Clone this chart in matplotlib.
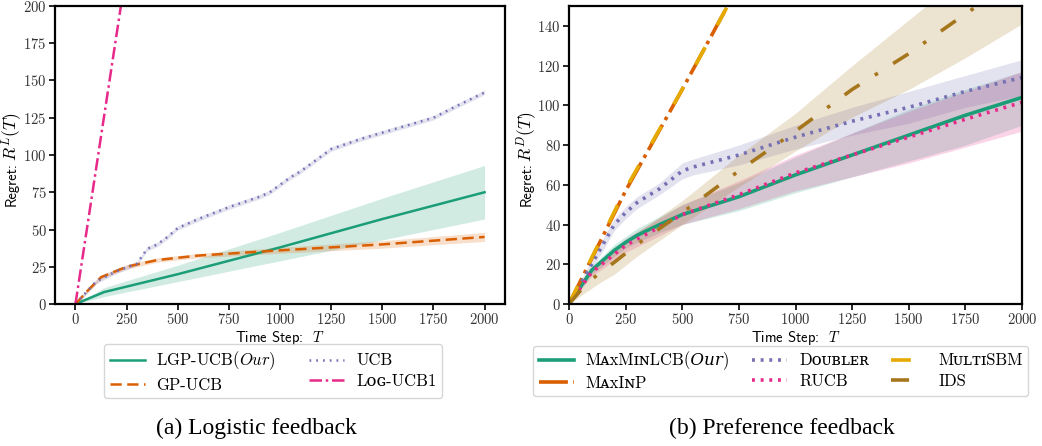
import numpy as np
import matplotlib
matplotlib.use("Agg")
import matplotlib.pyplot as plt

plt.rcParams['mathtext.fontset'] = 'cm'
plt.rcParams['axes.formatter.use_mathtext'] = True

# ---- data: (a) logistic feedback ----
lgp_t = [0, 140, 500, 1000, 1500, 2000]
lgp_y = [0, 8, 20, 38, 57, 75]
lgp_lo = [0, 5, 15, 29, 43, 57]
lgp_hi = [0, 11, 26, 48, 71, 93]

gp_t = [0, 60, 125, 250, 400, 600, 1000, 1500, 2000]
gp_y = [0, 9, 18, 25, 29.5, 32.5, 36, 40, 45]
gp_lo = [0, 8, 16.5, 23.5, 28, 31, 34, 37.5, 42]
gp_hi = [0, 10, 19.5, 26.5, 31, 34, 38, 42.5, 48]

ucb_t = [0, 100, 200, 300, 350, 400, 450, 500, 600, 750, 900, 950, 1000, 1050, 1100,
         1250, 1400, 1500, 1600, 1750, 1850, 2000]
ucb_y = [0, 15, 22, 27, 37, 40, 45, 51, 57, 65, 72, 75, 80, 85, 89,
         104, 111, 115, 119, 125, 132, 142]

log_t = [0, 500, 2000]
log_y = [0, 450, 1800]

# ---- data: (b) preference feedback ----
mml_t = [0, 100, 200, 250, 300, 400, 500, 750, 1000, 1250, 1500, 1750, 2000]
mml_y = [0, 17, 27, 31, 34.5, 40, 45, 54, 65, 75, 85, 95, 104]
mml_lo = [0, 15, 24, 28, 31, 36, 40, 47, 56, 64, 72, 80, 90]
mml_hi = [0, 19, 30, 34, 38, 44, 50, 61, 74, 86, 98, 108, 117]

maxinp_t = [0, 250, 500, 700, 2000]
maxinp_y = [0, 57, 108, 150, 430]

doub_t = [0, 75, 150, 200, 250, 300, 400, 500, 550, 750, 1000, 1250, 1500, 1750, 2000]
doub_y = [0, 15, 30, 40, 46, 51, 58, 67, 69, 75, 84, 92, 99, 107, 114]
doub_lo = [0, 13, 27, 37, 43, 48, 55, 63, 65, 70, 78, 85, 91, 99, 105]
doub_hi = [0, 17, 33, 43, 49, 54, 61, 71, 73, 80, 90, 99, 107, 115, 123]

rucb_t = [0, 100, 250, 500, 750, 1000, 1250, 1500, 1750, 2000]
rucb_y = [0, 16, 29.5, 45, 55, 66, 75, 84, 93, 101.5]
rucb_lo = [0, 14, 26, 40, 48, 57, 64, 71, 79, 87]
rucb_hi = [0, 18, 33, 50, 62, 75, 86, 97, 107, 117]

msbm_t = [0, 250, 500, 700, 2000]
msbm_y = [0, 58, 108, 150, 430]

ids_t = [0, 75, 140, 200, 300, 400, 500, 750, 1000, 1250, 1500, 1750, 2000]
ids_y = [0, 10, 16, 21, 30, 38, 46, 67, 87, 108, 126, 146, 165]
ids_lo = [0, 6, 11, 15, 24, 32, 40, 59, 77, 94, 108, 124, 141]
ids_hi = [0, 14, 21, 27, 36, 44, 52, 75, 96, 120, 143, 166, 190]

green = '#1b9e77'
orange = '#d95f02'
purple = '#7570b3'
pink = '#e7298a'
gold = '#e6ab02'
brown = '#a6761d'

W, H = 1042, 446
fig = plt.figure(figsize=(W / 100, H / 100), dpi=100)
ax1 = fig.add_axes([55 / W, 1 - 304 / H, 450 / W, 298 / H])
ax2 = fig.add_axes([569 / W, 1 - 304 / H, 453 / W, 298 / H])

# small caps helper using unicode small capital letters
sc = {'A': 'ᴀ', 'B': 'ʙ', 'C': 'ᴄ', 'D': 'ᴅ', 'E': 'ᴇ', 'G': 'ɢ', 'I': 'ɪ', 'L': 'ʟ',
      'N': 'ɴ', 'O': 'ᴏ', 'P': 'ᴘ', 'R': 'ʀ', 'T': 'ᴛ', 'U': 'ᴜ', 'X': 'x', 'M': 'ᴍ'}
def smallcaps(word):
    return ''.join(sc.get(c.upper(), c) if c.islower() else c for c in word)

# italic "Our" as unicode math italic letters (no mathtext in this label)
our_it = '\U0001D442\U0001D462\U0001D45F'

# ---- left plot ----
ax1.plot(lgp_t, lgp_y, color=green, lw=1.8, label='LGP-UCB($Our$)')
ax1.fill_between(lgp_t, lgp_lo, lgp_hi, color=green, alpha=0.2, lw=0)
ax1.plot(gp_t, gp_y, color=orange, lw=1.8, ls=(0, (4.5, 2.2)), label='GP-UCB')
ax1.fill_between(gp_t, gp_lo, gp_hi, color=orange, alpha=0.2, lw=0)
ax1.plot(ucb_t, ucb_y, color=purple, lw=1.8, ls=(0, (0.7, 2.0)), label='UCB')
ax1.fill_between(ucb_t, np.array(ucb_y) - 1.5, np.array(ucb_y) + 1.5, color=purple, alpha=0.2, lw=0)
ax1.plot(log_t, log_y, color=pink, lw=1.8, ls=(0, (5, 1.5, 1, 1.5)), label=smallcaps('Log') + '-UCB1')
ax1.set_xlim(-100, 2100)
ax1.set_ylim(0, 200)
ax1.set_xticks([0, 250, 500, 750, 1000, 1250, 1500, 1750, 2000])
ax1.set_yticks([0, 25, 50, 75, 100, 125, 150, 175, 200])
ax1.set_xlabel('Time Step:  $T$', fontfamily='cmss10', fontsize=10.5, labelpad=1)

# ---- right plot ----
ax2.plot(mml_t, mml_y, color=green, lw=2.6, label=smallcaps('MaxMin') + 'LCB(' + our_it + ')')
ax2.fill_between(mml_t, mml_lo, mml_hi, color=green, alpha=0.2, lw=0)
ax2.plot(maxinp_t, maxinp_y, color=orange, lw=2.6, ls=(0, (8, 1.5, 1, 1.5)), label=smallcaps('MaxIn') + 'P')
ax2.plot(doub_t, doub_y, color=purple, lw=2.6, ls=(0, (0.8, 1.6)), label=smallcaps('Doubler'))
ax2.fill_between(doub_t, doub_lo, doub_hi, color=purple, alpha=0.2, lw=0)
ax2.plot(rucb_t, rucb_y, color=pink, lw=2.6, ls=(0, (0.8, 1.6)), label='RUCB')
ax2.fill_between(rucb_t, rucb_lo, rucb_hi, color=pink, alpha=0.2, lw=0)
ax2.plot(msbm_t, msbm_y, color=gold, lw=2.6, ls=(0, (5.5, 7)), label=smallcaps('Multi') + 'SBM')
ax2.plot(ids_t, ids_y, color=brown, lw=2.6, ls=(0, (5, 5, 1, 5)), label='IDS')
ax2.fill_between(ids_t, ids_lo, ids_hi, color=brown, alpha=0.2, lw=0)
ax2.set_xlim(0, 2000)
ax2.set_ylim(0, 150)
ax2.set_xticks([0, 250, 500, 750, 1000, 1250, 1500, 1750, 2000])
ax2.set_yticks([0, 20, 40, 60, 80, 100, 120, 140])
ax2.set_xlabel('Time Step:  $T$', fontfamily='cmss10', fontsize=10.5, labelpad=1)

for ax in (ax1, ax2):
    for s in ax.spines.values():
        s.set_linewidth(1.6)
        s.set_color('black')
    ax.tick_params(direction='out', length=4, width=1.2, labelsize=10.5, pad=2, colors='black')
    for lab in ax.get_xticklabels() + ax.get_yticklabels():
        lab.set_fontfamily('cmr10')
        lab.set_color('#333333')

# y labels: sans text plus larger math part
for x0, sym in ((12, '$R^L(T)$'), (527, '$R^D(T)$')):
    fig.text(x0 / W, 1 - 184 / H, 'Regret:', rotation=90, ha='center', va='center',
             fontfamily='cmss10', fontsize=10.5)
    fig.text(x0 / W, 1 - 137 / H, sym, rotation=90, ha='center', va='center', fontsize=12.5)

legfont = {'family': ['cmr10', 'DejaVu Serif', 'STIXGeneral'], 'size': 12}
h, l = ax1.get_legend_handles_labels()
fig.legend(h, l, ncol=2, loc='center', bbox_to_anchor=(273 / W, 1 - 371 / H), prop=legfont,
           frameon=True, fancybox=True, edgecolor='#cccccc', handlelength=2.1,
           columnspacing=2.0, borderpad=0.35, labelspacing=0.3, handletextpad=0.7)
h, l = ax2.get_legend_handles_labels()
fig.legend(h, l, ncol=3, loc='center left', bbox_to_anchor=(533 / W, 1 - 371 / H), prop=legfont,
           frameon=True, fancybox=True, edgecolor='#cccccc', handlelength=2.1,
           columnspacing=1.35, borderpad=0.35, labelspacing=0.3, handletextpad=0.7,
           borderaxespad=0)

fig.text(256 / W, 1 - 428 / H, '(a) Logistic feedback', ha='center', va='center',
         fontfamily='Liberation Serif', fontsize=17)
fig.text(782 / W, 1 - 428 / H, '(b) Preference feedback', ha='center', va='center',
         fontfamily='Liberation Serif', fontsize=17)

fig.savefig('out.png', dpi=100)
